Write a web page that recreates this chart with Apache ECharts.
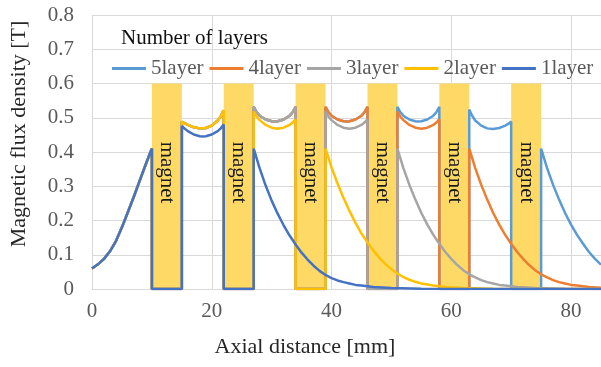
<!DOCTYPE html>
<html>
<head>
<meta charset="utf-8">
<title>Magnetic flux density along the axis</title>
<script src="https://cdn.jsdelivr.net/npm/echarts@6/dist/echarts.min.js"></script>
<style>
  html, body { margin: 0; padding: 0; background: #fff; }
  #chart { width: 601px; height: 367px; }
</style>
</head>
<body>
<div id="chart"></div>
<script>
// Magnet positions along the axis [mm] and their drawn height [T]
const magnetStart = [10, 22, 34, 46, 58, 70];
const magnetEnd = [15, 27, 39, 51, 63, 75];
const magnetTop = [0.6, 0.6, 0.6, 0.6, 0.6, 0.6];

const layerNames = ['5layer', '4layer', '3layer', '2layer', '1layer'];
const xTicks = [0, 20, 40, 60, 80];

// Field approaching the first magnet (identical for every stack)
const approach = [
  [0, 0.060], [1, 0.072], [2, 0.088], [3, 0.110], [4, 0.140], [5, 0.180],
  [6, 0.225], [7, 0.270], [8, 0.318], [9, 0.365], [10, 0.410], [10, 0]
];

// 1 layer
const layer1 = [
  [15, 0], [15, 0.476], [15.5, 0.468], [16, 0.461], [17, 0.451], [18, 0.446], [18.5, 0.445],
  [19, 0.446], [20, 0.451], [21, 0.461], [21.5, 0.469], [22, 0.480], [22, 0],
  [27, 0], [27, 0.410], [28, 0.352], [29, 0.302], [30, 0.258], [31, 0.220], [32, 0.186],
  [33, 0.156], [34, 0.130], [35, 0.106], [36, 0.086], [37, 0.068], [38, 0.053], [39, 0.041],
  [40, 0.032], [41, 0.025], [42, 0.020], [43, 0.016], [44, 0.012], [45, 0.010], [47, 0.006],
  [50, 0.003], [55, 0.001], [60, 0], [85, 0]
];

// 2 layers
const layer2 = [
  [15, 0], [15, 0.488], [16, 0.479], [17, 0.472], [18, 0.469], [19, 0.470], [20, 0.477],
  [21, 0.492], [21.5, 0.504], [22, 0.522], [22, 0],
  [27, 0], [27, 0.518], [27.5, 0.503], [28, 0.493], [29, 0.479], [30, 0.471], [31, 0.468],
  [32, 0.471], [33, 0.479], [33.5, 0.486], [34, 0.495], [34, 0],
  [39, 0], [39, 0.410], [40, 0.355], [41, 0.308], [42, 0.266], [43, 0.228], [44, 0.193],
  [45, 0.162], [46, 0.136], [47, 0.112], [48, 0.091], [49, 0.073], [50, 0.058], [51, 0.045],
  [52, 0.035], [53, 0.027], [54, 0.021], [55, 0.016], [56, 0.013], [57, 0.010], [59, 0.006],
  [62, 0.003], [67, 0.001], [72, 0], [85, 0]
];

// 3 layers
const layer3 = [
  [15, 0], [15, 0.488], [16, 0.479], [17, 0.472], [18, 0.469], [19, 0.470], [20, 0.477],
  [21, 0.492], [21.5, 0.504], [22, 0.522], [22, 0],
  [27, 0], [27, 0.532], [27.5, 0.516], [28, 0.506], [29, 0.495], [30, 0.490], [30.5, 0.489],
  [31, 0.490], [32, 0.495], [33, 0.506], [33.5, 0.516], [34, 0.532], [34, 0],
  [39, 0], [39, 0.518], [39.5, 0.503], [40, 0.493], [41, 0.479], [42, 0.471], [43, 0.468],
  [44, 0.471], [45, 0.479], [45.5, 0.486], [46, 0.495], [46, 0],
  [51, 0], [51, 0.410], [52, 0.353], [53, 0.304], [54, 0.261], [55, 0.222], [56, 0.188],
  [57, 0.158], [58, 0.132], [59, 0.108], [60, 0.088], [61, 0.070], [62, 0.055], [63, 0.043],
  [64, 0.034], [65, 0.026], [66, 0.020], [67, 0.016], [68, 0.012], [69, 0.010], [71, 0.006],
  [74, 0.003], [79, 0.001], [84, 0], [85, 0]
];

// 4 layers
const layer4 = [
  [15, 0], [15, 0.488], [16, 0.479], [17, 0.472], [18, 0.469], [19, 0.470], [20, 0.477],
  [21, 0.492], [21.5, 0.504], [22, 0.522], [22, 0],
  [27, 0], [27, 0.532], [27.5, 0.516], [28, 0.506], [29, 0.495], [30, 0.490], [30.5, 0.489],
  [31, 0.490], [32, 0.495], [33, 0.506], [33.5, 0.516], [34, 0.532], [34, 0],
  [39, 0], [39, 0.532], [39.5, 0.516], [40, 0.506], [41, 0.495], [42, 0.490], [42.5, 0.489],
  [43, 0.490], [44, 0.495], [45, 0.506], [45.5, 0.516], [46, 0.532], [46, 0],
  [51, 0], [51, 0.518], [51.5, 0.503], [52, 0.493], [53, 0.479], [54, 0.471], [55, 0.468],
  [56, 0.471], [57, 0.479], [57.5, 0.486], [58, 0.495], [58, 0],
  [63, 0], [63, 0.410], [64, 0.353], [65, 0.304], [66, 0.261], [67, 0.222], [68, 0.188],
  [69, 0.158], [70, 0.132], [71, 0.108], [72, 0.088], [73, 0.070], [74, 0.055], [75, 0.043],
  [76, 0.034], [77, 0.026], [78, 0.020], [79, 0.016], [80, 0.012], [81, 0.010], [83, 0.006],
  [85, 0.004]
];

// 5 layers
const layer5 = [
  [15, 0], [15, 0.488], [16, 0.479], [17, 0.472], [18, 0.469], [19, 0.470], [20, 0.477],
  [21, 0.492], [21.5, 0.504], [22, 0.522], [22, 0],
  [27, 0], [27, 0.532], [27.5, 0.516], [28, 0.506], [29, 0.495], [30, 0.490], [30.5, 0.489],
  [31, 0.490], [32, 0.495], [33, 0.506], [33.5, 0.516], [34, 0.532], [34, 0],
  [39, 0], [39, 0.532], [39.5, 0.516], [40, 0.506], [41, 0.495], [42, 0.490], [42.5, 0.489],
  [43, 0.490], [44, 0.495], [45, 0.506], [45.5, 0.516], [46, 0.532], [46, 0],
  [51, 0], [51, 0.532], [51.5, 0.516], [52, 0.506], [53, 0.495], [54, 0.490], [54.5, 0.489],
  [55, 0.490], [56, 0.495], [57, 0.506], [57.5, 0.516], [58, 0.532], [58, 0],
  [63, 0], [63, 0.524], [63.5, 0.505], [64, 0.492], [65, 0.477], [66, 0.469], [67, 0.467],
  [68, 0.470], [69, 0.477], [69.5, 0.482], [70, 0.489], [70, 0],
  [75, 0], [75, 0.410], [76, 0.353], [77, 0.304], [78, 0.261], [79, 0.222], [80, 0.188],
  [81, 0.158], [82, 0.132], [83, 0.108], [84, 0.088], [85, 0.071]
];

const layerColors = ['#5B9BD5', '#ED7D31', '#A5A5A5', '#FFC000', '#4472C4'];
const layerData = [layer5, layer4, layer3, layer2, layer1];

const serif = '"Liberation Serif", "Times New Roman", serif';
const chart = echarts.init(document.getElementById('chart'), null, { renderer: 'canvas' });

const magnetRows = magnetStart.map((s, i) => [s, magnetEnd[i], magnetTop[i]]);

const lineSeries = layerNames.map((name, i) => ({
  name: name,
  type: 'line',
  data: approach.concat(layerData[i]),
  symbol: 'none',
  z: 3,
  lineStyle: { color: layerColors[i], width: 2.5 },
  itemStyle: { color: layerColors[i] }
}));

chart.setOption({
  animation: false,
  title: {
    text: 'Number of layers',
    left: 121,
    top: 28,
    padding: 0,
    textStyle: { fontFamily: serif, fontSize: 21, fontWeight: 'normal', color: '#111' }
  },
  legend: {
    data: layerNames,
    left: 112,
    top: 58,
    width: 520,
    padding: 0,
    icon: 'rect',
    itemWidth: 34,
    itemHeight: 3,
    itemGap: 6,
    textStyle: { fontFamily: serif, fontSize: 21, color: '#595959' }
  },
  grid: { left: 92, right: -3, top: 15, bottom: 78, containLabel: false },
  xAxis: {
    type: 'value',
    min: 0,
    max: 85,
    interval: 20,
    name: 'Axial distance [mm]',
    nameLocation: 'middle',
    nameGap: 47,
    nameTextStyle: { fontFamily: serif, fontSize: 22, color: '#262626', padding: [0, 83, 0, 0] },
    axisLine: { show: true, lineStyle: { color: '#D9D9D9', width: 1 } },
    axisTick: { show: false },
    axisLabel: {
      fontFamily: serif, fontSize: 21, color: '#595959', margin: 12,
      showMaxLabel: false,
      formatter: v => (xTicks.indexOf(v) >= 0 ? String(v) : '')
    },
    splitLine: { show: true, lineStyle: { color: '#D9D9D9', width: 1 } }
  },
  yAxis: {
    type: 'value',
    min: 0,
    max: 0.8,
    interval: 0.1,
    name: 'Magnetic flux density [T]',
    nameLocation: 'middle',
    nameRotate: 90,
    nameGap: 62,
    nameTextStyle: { fontFamily: serif, fontSize: 22, color: '#262626', padding: [0, 0, 0, 36] },
    axisLine: { show: false },
    axisTick: { show: false },
    axisLabel: {
      fontFamily: serif, fontSize: 21, color: '#595959', margin: 18,
      formatter: v => (v === 0 ? '0' : v.toFixed(1))
    },
    splitLine: { show: true, lineStyle: { color: '#D9D9D9', width: 1 } }
  },
  series: [{
    name: 'magnet',
    type: 'custom',
    z: 1,
    silent: true,
    data: magnetRows,
    encode: { x: [0, 1], y: 2 },
    renderItem: function (params, api) {
      const topLeft = api.coord([api.value(0), api.value(2)]);
      const bottomRight = api.coord([api.value(1), 0]);
      const labelY = api.coord([api.value(0), 0.34])[1];
      return {
        type: 'group',
        children: [{
          type: 'rect',
          shape: {
            x: topLeft[0], y: topLeft[1],
            width: bottomRight[0] - topLeft[0],
            height: bottomRight[1] - topLeft[1]
          },
          style: { fill: '#FFD966' }
        }, {
          type: 'text',
          x: (topLeft[0] + bottomRight[0]) / 2,
          y: labelY,
          rotation: -Math.PI / 2,
          style: {
            text: 'magnet',
            fill: '#1a1a1a',
            fontFamily: serif,
            fontSize: 21,
            align: 'center',
            verticalAlign: 'middle'
          }
        }]
      };
    }
  }].concat(lineSeries)
});
</script>
</body>
</html>
